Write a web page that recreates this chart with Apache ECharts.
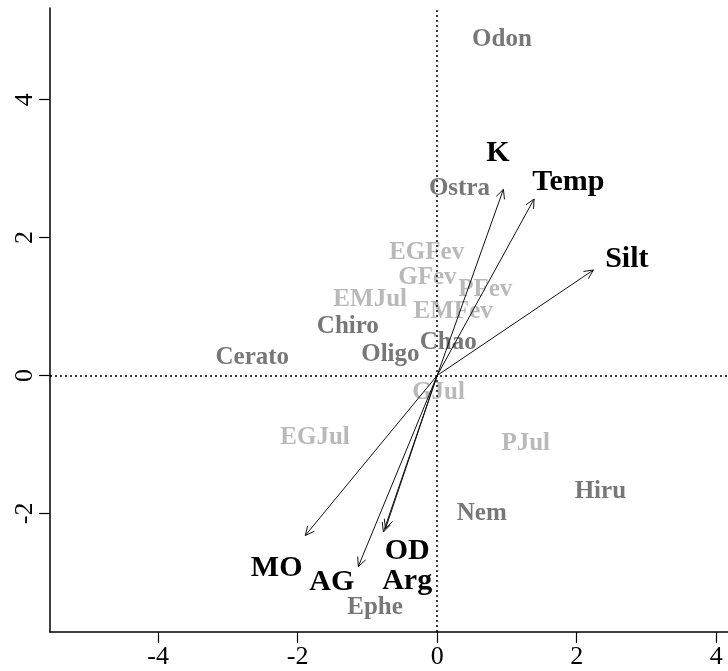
<!DOCTYPE html>
<html>
<head>
<meta charset="utf-8">
<script src="https://cdn.jsdelivr.net/npm/echarts@6/dist/echarts.min.js"></script>
<style>html,body{margin:0;padding:0;background:#fff}#c{width:728px;height:671px}</style>
</head>
<body>
<div id="c"></div>
<script>
// Species scores (dark grey)
const speciesNames = ['Odon','Ostra','Chiro','Chao','Oligo','Cerato','Hiru','Nem','Ephe'];
const speciesX = [0.93, 0.32, -1.28, 0.16, -0.67, -2.65, 2.34, 0.64, -0.89];
const speciesY = [4.87, 2.71, 0.71, 0.48, 0.30, 0.26, -1.69, -2.00, -3.36];
// Site scores (light grey)
const siteNames = ['EGFev','GFev','PFev','EMJul','EMFev','GJul','EGJul','PJul'];
const siteX = [-0.15, -0.14, 0.69, -0.96, 0.23, 0.02, -1.75, 1.27];
const siteY = [1.78, 1.42, 1.25, 1.10, 0.93, -0.25, -0.90, -0.99];
// Environmental vectors (arrow tips) and label positions
const envNames = ['K','Temp','Silt','MO','AG','OD','Arg'];
const envX = [0.95, 1.39, 2.24, -1.89, -1.13, -0.74, -0.77];
const envY = [2.70, 2.56, 1.53, -2.32, -2.77, -2.22, -2.27];
const envLabelX = [0.87, 1.88, 2.72, -2.30, -1.51, -0.43, -0.43];
const envLabelY = [3.22, 2.81, 1.69, -2.80, -3.00, -2.55, -2.98];
// Axis ticks
const xTicks = [-4, -2, 0, 2, 4];
const yTicks = [-2, 0, 2, 4];

const chart = echarts.init(document.getElementById('c'));
const serif = '"Liberation Serif", "DejaVu Serif", serif';

function textSeries(names, xs, ys, color, size) {
  return {
    type: 'custom',
    coordinateSystem: 'cartesian2d',
    silent: true,
    data: names.map((n, i) => [xs[i], ys[i], n]),
    renderItem: function (params, api) {
      const p = api.coord([api.value(0), api.value(1)]);
      return {
        type: 'text',
        x: p[0], y: p[1],
        style: {
          text: names[params.dataIndex],
          fill: color,
          font: 'bold ' + size + 'px ' + serif,
          align: 'center',
          verticalAlign: 'middle'
        }
      };
    }
  };
}

const option = {
  animation: false,
  backgroundColor: '#fff',
  grid: { left: 50, right: 0, top: 8, bottom: 39, containLabel: false, outerBoundsMode: 'none' },
  xAxis: {
    type: 'value', min: -5.55, max: 4.17,
    splitLine: { show: false },
    axisLine: { onZero: false, lineStyle: { color: '#000', width: 1.5 } },
    axisTick: { customValues: xTicks, length: 11, lineStyle: { color: '#000', width: 1.2 } },
    axisLabel: { customValues: xTicks, color: '#000', fontSize: 26, fontFamily: serif, margin: 12, hideOverlap: false }
  },
  yAxis: {
    type: 'value', min: -3.72, max: 5.33,
    splitLine: { show: false },
    axisLine: { onZero: false, lineStyle: { color: '#000', width: 1.5 } },
    axisTick: { customValues: yTicks, length: 11, lineStyle: { color: '#000', width: 1.2 } },
    axisLabel: { customValues: yTicks, color: '#000', fontSize: 26, fontFamily: serif, rotate: 90, margin: 25, verticalAlign: 'middle', align: 'center' }
  },
  series: [
    {
      type: 'scatter', data: [], silent: true,
      markLine: {
        silent: true, symbol: 'none', label: { show: false },
        lineStyle: { color: '#000', type: [2, 3], width: 1.5 },
        data: [{ xAxis: 0 }, { yAxis: 0 }]
      }
    },
    textSeries(siteNames, siteX, siteY, '#b9b9b9', 25),
    textSeries(speciesNames, speciesX, speciesY, '#777777', 25),
    {
      type: 'custom',
      coordinateSystem: 'cartesian2d',
      silent: true,
      data: envNames.map((n, i) => [envX[i], envY[i]]),
      renderItem: function (params, api) {
        const p0 = api.coord([0, 0]);
        const p1 = api.coord([api.value(0), api.value(1)]);
        const ang = Math.atan2(p1[1] - p0[1], p1[0] - p0[0]);
        const L = 10, a = Math.PI / 7;
        const h1 = [p1[0] - L * Math.cos(ang - a), p1[1] - L * Math.sin(ang - a)];
        const h2 = [p1[0] - L * Math.cos(ang + a), p1[1] - L * Math.sin(ang + a)];
        return {
          type: 'group',
          children: [
            { type: 'line', shape: { x1: p0[0], y1: p0[1], x2: p1[0], y2: p1[1] }, style: { stroke: '#111', lineWidth: 1 } },
            { type: 'polyline', shape: { points: [h1, p1, h2] }, style: { stroke: '#111', lineWidth: 1, fill: null } }
          ]
        };
      }
    },
    textSeries(envNames, envLabelX, envLabelY, '#000000', 30)
  ]
};
chart.setOption(option);
</script>
</body>
</html>
